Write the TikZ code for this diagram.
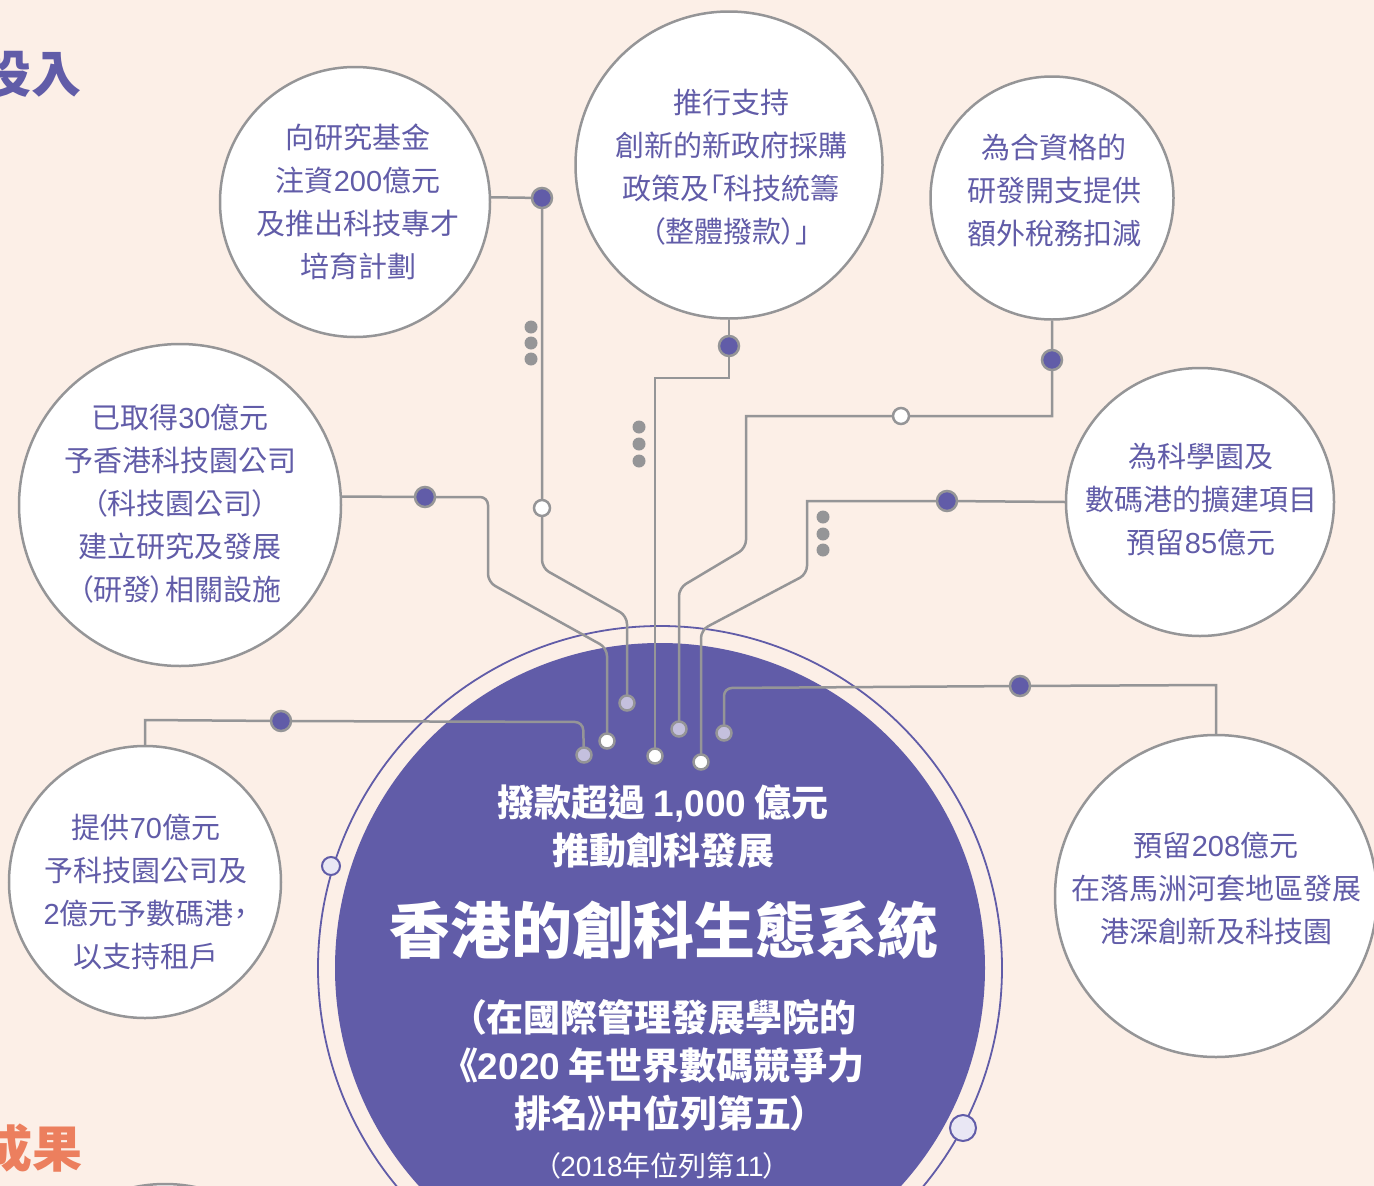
\documentclass[tikz,border=0pt]{standalone}
\usepackage{fontspec}
\setmainfont{Noto Sans CJK TC}[RawFeature=+palt]
\newfontfamily\latf{Liberation Sans}
\newcommand{\nm}[1]{{\latf #1}}
\definecolor{bgc}{HTML}{FCEFE7}
\definecolor{purp}{HTML}{615CA8}
\definecolor{lineg}{HTML}{959597}
\definecolor{lav}{HTML}{C4C0DE}
\definecolor{ringfill}{HTML}{E9E7F4}
\definecolor{orng}{HTML}{EC7F5E}
\begin{document}
\begin{tikzpicture}[x=1pt,y=-1pt,
  sat/.style={circle, draw=lineg, line width=2.5pt, fill=white, inner sep=0pt},
  conn/.style={draw=lineg, line width=2.5pt},
  pdot/.style={circle, fill=purp, draw=lineg, line width=2.5pt, minimum size=20pt, inner sep=0pt},
  wdot/.style={circle, fill=white, draw=lineg, line width=2.5pt, minimum size=16pt, inner sep=0pt},
  ldot/.style={circle, fill=lav, draw=lineg, line width=2.5pt, minimum size=15pt, inner sep=0pt},
  edot/.style={circle, fill=white, draw=lineg, line width=2.5pt, minimum size=15pt, inner sep=0pt},
  gdot/.style={circle, fill=lineg, minimum size=13pt, inner sep=0pt},
  rdot/.style={circle, fill=ringfill, draw=purp, line width=2pt, inner sep=0pt},
  stxt/.style={align=center, text=purp, inner sep=0pt, font=\fontsize{29}{43}\selectfont},
  ctxt/.style={align=center, text=white, inner sep=0pt, font=\bfseries\fontsize{37}{48}\selectfont},
]
\clip (0,0) rectangle (1374,1186);
\fill[bgc] (0,0) rectangle (1374,1186);

% headings cut at the left edge
\node[anchor=east, inner sep=0pt, text=purp, font=\bfseries\fontsize{50}{50}\selectfont] (h1) at (82,74) {投入};
\node[anchor=east, inner sep=0pt, text=orng, font=\bfseries\fontsize{50}{50}\selectfont] (h2) at (83,1148) {成果};

% central circle
\draw[purp, line width=1.8pt] (660,968) circle (342pt);
\fill[purp] (660,968) circle (325pt);
\node[rdot, minimum size=18pt] (r1) at (331,866) {};
\node[rdot, minimum size=26pt] (r2) at (963,1128) {};

% satellite circles
\node[sat, minimum size=270pt] (c1) at (355,202) {};
\node[sat, minimum size=307pt] (c2) at (729,165) {};
\node[sat, minimum size=243pt] (c3) at (1052,198) {};
\node[sat, minimum size=322pt] (c4) at (180,505) {};
\node[sat, minimum size=268pt] (c5) at (1200,502) {};
\node[sat, minimum size=272pt] (c6) at (145,882) {};
\node[sat, minimum size=322pt] (c7) at (1216,896) {};
\node[sat, minimum size=300pt] (c8) at (165,1334) {};

% connector points
\coordinate (a1) at (542,198);
\coordinate (a2) at (542,508);
\coordinate (aE) at (627,703);
\coordinate (b1) at (425,497);
\coordinate (bE) at (607,741);
\coordinate (k1) at (729,346);
\coordinate (kE) at (655,756);
\coordinate (d1) at (1052,360);
\coordinate (d2) at (901,416);
\coordinate (dE) at (679,729);
\coordinate (e1) at (947,501);
\coordinate (eE) at (701,762);
\coordinate (f1) at (1020,686);
\coordinate (fE) at (724,733);
\coordinate (g1) at (281,721);
\coordinate (gE) at (584,755);

% connectors
\draw[conn] (c1.2) -- (a1) -- (a2) [rounded corners=8pt] -- (542,568) -- (627,616) -- (aE);
\draw[conn] (c4.3) -- (b1) [rounded corners=8pt] -- (488,497) -- (488,582) -- (607,648) -- (bE);
\draw[conn] (c2.south) -- (k1) -- (729,378) -- (655,378) -- (kE);
\draw[conn] (c3.south) -- (d1) -- (1052,416) -- (d2) -- (746,416) [rounded corners=8pt] -- (746,548) -- (679,588) -- (dE);
\draw[conn] (c5.west) -- (e1) -- (807,501) [rounded corners=8pt] -- (807,574) -- (701,630) -- (eE);
\draw[conn] (c7.north) -- (1216,685) -- (f1) [rounded corners=8pt] -- (724,688) -- (fE);
\draw[conn] (c6.north) -- (145,720) -- (g1) [rounded corners=8pt] -- (583,722) -- (gE);

% dots on connectors
\node[pdot] (A1) at (a1) {};
\node[wdot] (A2) at (a2) {};
\node[ldot] (AE) at (aE) {};
\node[pdot] (B1) at (b1) {};
\node[edot] (BE) at (bE) {};
\node[pdot] (K1) at (k1) {};
\node[edot] (KE) at (kE) {};
\node[pdot] (D1) at (d1) {};
\node[wdot] (D2) at (d2) {};
\node[ldot] (DE) at (dE) {};
\node[pdot] (E1) at (e1) {};
\node[edot] (EE) at (eE) {};
\node[pdot] (F1) at (f1) {};
\node[ldot] (FE) at (fE) {};
\node[pdot] (G1) at (g1) {};
\node[ldot] (GE) at (gE) {};

% ellipsis marks
\foreach \i/\x/\y in {1/531/327, 2/531/343, 3/531/359, 4/639/427, 5/639/444, 6/639/461, 7/823/517, 8/823/534, 9/823/550}
  \node[gdot] (m\i) at (\x,\y) {};

% satellite texts
\node[stxt] (t1) at (358,202) {向研究基金\\注資\nm{200}億元\\及推出科技專才\\培育計劃};
\node[stxt] (t2) at (731,167) {推行支持\\創新的新政府採購\\政策及「科技統籌\\（整體撥款）」};
\node[stxt] (t3) at (1054,190) {為合資格的\\研發開支提供\\額外稅務扣減};
\node[stxt] (t4) at (180,504) {已取得\nm{30}億元\\予香港科技園公司\\（科技園公司）\\建立研究及發展\\（研發）相關設施};
\node[stxt] (t5) at (1201,500) {為科學園及\\數碼港的擴建項目\\預留\nm{85}億元};
\node[stxt] (t6) at (146,892) {提供\nm{70}億元\\予科技園公司及\\\nm{2}億元予數碼港，\\以支持租戶};
\node[stxt] (t7) at (1216,889) {預留\nm{208}億元\\在落馬洲河套地區發展\\港深創新及科技園};

% central texts
\node[ctxt] (u1) at (663,827) {撥款超過 \nm{1,000} 億元\\推動創科發展};
\node[ctxt, font=\bfseries\fontsize{61}{61}\selectfont] (u2) at (664,930) {香港的創科生態系統};
\node[ctxt] (u3) at (662,1065) {（在國際管理發展學院的\\《\nm{2020} 年世界數碼競爭力\\排名》中位列第五）};
\node[ctxt, font=\fontsize{28}{28}\selectfont] (u4) at (662,1166) {（\nm{2018}年位列第\nm{11}）};
\end{tikzpicture}
\end{document}
